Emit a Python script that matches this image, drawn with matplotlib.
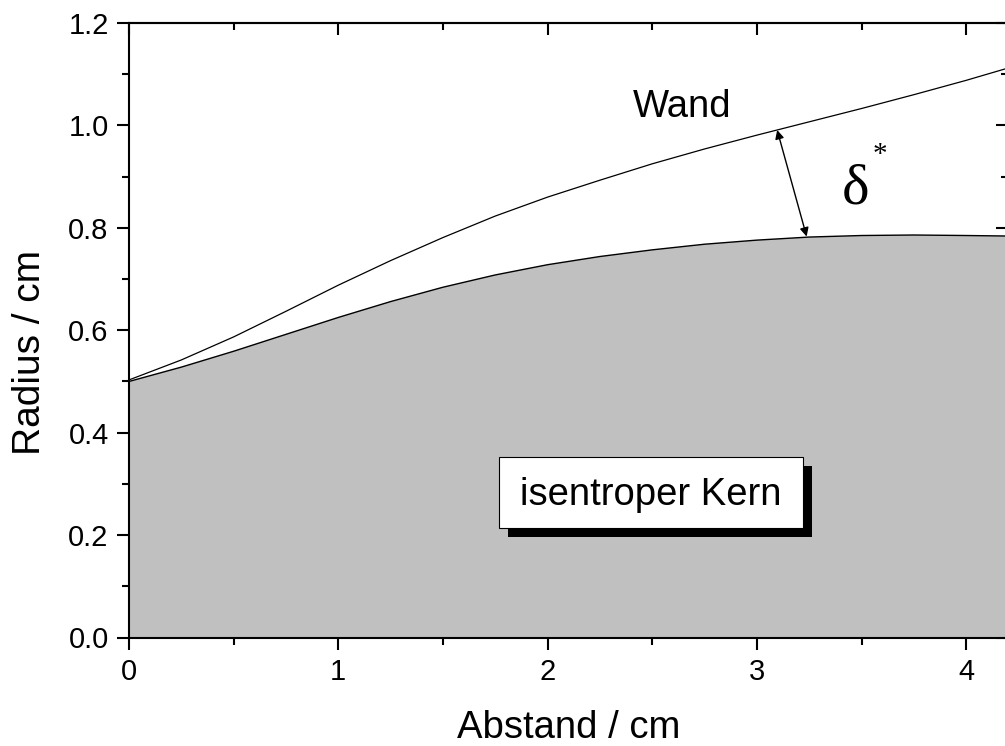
import matplotlib
matplotlib.use('Agg')
import matplotlib.pyplot as plt
from matplotlib.ticker import MultipleLocator, FormatStrFormatter
from matplotlib.patches import Rectangle
import matplotlib.patheffects as pe

plt.rcParams['font.family'] = ['Liberation Sans', 'DejaVu Sans']

# Wall contour and isentropic core radius along the nozzle (cm)
abstand = [0.0, 0.25, 0.5, 0.75, 1.0, 1.25, 1.5, 1.75, 2.0, 2.25,
           2.5, 2.75, 3.0, 3.25, 3.5, 3.75, 4.0, 4.2]
wand = [0.503, 0.542, 0.587, 0.637, 0.688, 0.736, 0.781, 0.823, 0.860, 0.893,
        0.925, 0.954, 0.981, 1.007, 1.033, 1.060, 1.088, 1.112]
kern = [0.500, 0.528, 0.559, 0.592, 0.625, 0.656, 0.684, 0.708, 0.728, 0.744,
        0.757, 0.768, 0.776, 0.782, 0.785, 0.786, 0.785, 0.784]

# displacement thickness arrow: wall point -> core point
delta_wall = (3.097, 0.991)
delta_core = (3.238, 0.783)

fig = plt.figure(figsize=(10.05, 7.46), dpi=100)
ax = fig.add_axes([129 / 1005, 108.5 / 746, 879 / 1005, 614.5 / 746])

ax.fill_between(abstand, 0, kern, facecolor='#c0c0c0', edgecolor='none', zorder=1)
ax.plot(abstand, kern, color='k', lw=1.0, zorder=2)
ax.plot(abstand, wand, color='k', lw=0.9, zorder=2)

ax.set_xlim(0, 4.2)
ax.set_ylim(0, 1.2)

ax.xaxis.set_major_locator(MultipleLocator(1))
ax.xaxis.set_minor_locator(MultipleLocator(0.5))
ax.yaxis.set_major_locator(MultipleLocator(0.2))
ax.yaxis.set_minor_locator(MultipleLocator(0.1))
ax.yaxis.set_major_formatter(FormatStrFormatter('%.1f'))
ax.xaxis.set_major_formatter(FormatStrFormatter('%d'))

ax.tick_params(which='both', direction='out', width=1.5, labelsize=21, pad=6)
ax.tick_params(which='major', length=8.6)
ax.tick_params(which='minor', length=5)
for s in ax.spines.values():
    s.set_linewidth(1.5)

# top and right ticks point inwards
top = ax.secondary_xaxis('top')
top.xaxis.set_major_locator(MultipleLocator(1))
top.xaxis.set_minor_locator(MultipleLocator(0.5))
top.tick_params(which='both', direction='in', width=1.5, labeltop=False)
top.tick_params(which='major', length=8.6)
top.tick_params(which='minor', length=5)
top.spines['top'].set_linewidth(1.5)

right = ax.secondary_yaxis('right')
right.yaxis.set_major_locator(MultipleLocator(0.2))
right.yaxis.set_minor_locator(MultipleLocator(0.1))
right.tick_params(which='both', direction='in', width=1.5, labelright=False)
right.tick_params(which='major', length=8.6)
right.tick_params(which='minor', length=5)
right.spines['right'].set_linewidth(1.5)

ax.set_xlabel('Abstand / cm', fontsize=27.5)
ax.set_ylabel('Radius / cm', fontsize=28)
ax.xaxis.set_label_coords(0.5, -0.1185)
ax.yaxis.set_label_coords(-0.0922, 0.4646)

ax.text(2.645, 1.0166, 'Wand', fontsize=27.5, ha='center', va='baseline')

ax.annotate('', xy=delta_wall, xytext=delta_core,
            arrowprops=dict(arrowstyle='<|-|>', color='k', lw=1,
                            mutation_scale=13, shrinkA=0, shrinkB=0))
ax.text(3.474, 0.847, 'δ', fontsize=42, family='Liberation Serif',
        ha='center', va='baseline')
ax.text(3.588, 0.929, '*', fontsize=21, family='Liberation Serif',
        ha='center', va='baseline')

# label box with hard drop shadow
box = Rectangle((1.768, 0.214), 1.452, 0.1385, facecolor='white',
                edgecolor='k', lw=0.8, zorder=3)
box.set_path_effects([pe.SimplePatchShadow(offset=(6.5, -6.5), shadow_rgbFace='k',
                                           alpha=1),
                      pe.Normal()])
ax.add_patch(box)
ax.text(2.494, 0.259, 'isentroper Kern', fontsize=27.5, ha='center',
        va='baseline', zorder=4)

plt.savefig('out.png', dpi=100)
